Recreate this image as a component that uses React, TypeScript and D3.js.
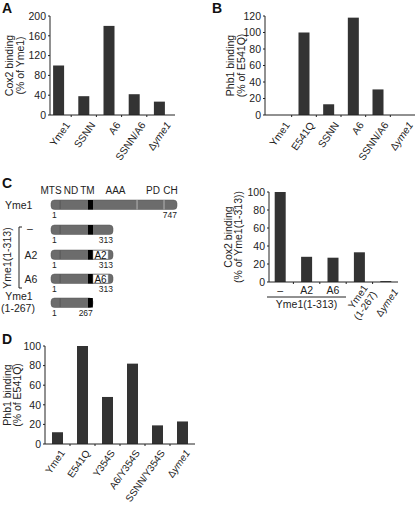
import React from 'react';
import * as d3 from 'd3';

const FONT = '"Liberation Sans", Arial, Helvetica, sans-serif';
const BAR = '#333333';
const AXIS = '#222222';

// Panel A
const aCats = ['Yme1', 'SSNN', 'A6', 'SSNN/A6', 'Δyme1'];
const aValues = [100, 38, 180, 42, 27];
const aTicks = [0, 40, 80, 120, 160, 200];

// Panel B
const bCats = ['Yme1', 'E541Q', 'SSNN', 'A6', 'SSNN/A6', 'Δyme1'];
const bValues = [0, 100, 13, 118, 31, 0];
const bTicks = [0, 20, 40, 60, 80, 100, 120];

// Panel C chart
const cCats = ['–', 'A2', 'A6', 'Yme1 (1-267)', 'Δyme1'];
const cValues = [100, 28, 27, 33, 1];
const cTicks = [0, 20, 40, 60, 80, 100];

// Panel D
const dCats = ['Yme1', 'E541Q', 'Y354S', 'A6/Y354S', 'SSNN/Y354S', 'Δyme1'];
const dValues = [12, 100, 48, 82, 19, 23];
const dTicks = [0, 20, 40, 60, 80, 100];

// Panel C diagram
const domainNames = ['MTS', 'ND', 'TM', 'AAA', 'PD', 'CH'];
const domainLabelRes = [1, 130, 236, 330, 584, 703];
const constructNames = ['Yme1', '–', 'A2', 'A6', 'Yme1 (1-267)'];
const constructEnds = [747, 313, 313, 313, 267];
const constructTags = ['', '', 'A2', 'A6', ''];

function CatText({ label }: { label: string }) {
  if (label.startsWith('Δ')) {
    return (
      <>
        <tspan>Δ</tspan>
        <tspan fontStyle="italic">{label.slice(1)}</tspan>
      </>
    );
  }
  return <>{label}</>;
}

type PanelProps = {
  cats: string[];
  values: number[];
  ticks: number[];
  yMax: number;
  axisX: number;
  axisEnd: number;
  band: [number, number];
  yTop: number;
  yBottom: number;
  bw: number;
  yLabel: [string, string];
  labX: [number, number];
  lab: [number, number];
  labSize?: number;
  customLabels?: boolean;
};

function BarPanel(p: PanelProps) {
  const y = d3.scaleLinear().domain([0, p.yMax]).range([p.yBottom, p.yTop]);
  const x = d3.scaleBand<string>().domain(p.cats).range(p.band).padding(0);
  const step = x.step();
  const midY = (p.yTop + p.yBottom) / 2;
  return (
    <g>
      {p.cats.map((c, i) => {
        const cx = (x(c) as number) + step / 2;
        const h = p.yBottom - y(p.values[i]);
        return (
          <rect key={c} x={cx - p.bw / 2} y={y(p.values[i])} width={p.bw} height={Math.max(h, 0)} fill={BAR} />
        );
      })}
      <line x1={p.axisX} x2={p.axisX} y1={p.yTop} y2={p.yBottom} stroke={AXIS} strokeWidth={1} />
      <line x1={p.axisX} x2={p.axisEnd} y1={p.yBottom} y2={p.yBottom} stroke={AXIS} strokeWidth={1} />
      {p.cats.slice(1).map((c) => (
        <line key={'xt' + c} x1={x(c) as number} x2={x(c) as number} y1={p.yBottom} y2={p.yBottom + 2} stroke={AXIS} />
      ))}
      {p.ticks.map((t) => (
        <g key={t}>
          <line x1={p.axisX - 2} x2={p.axisX} y1={y(t)} y2={y(t)} stroke={AXIS} />
          <text x={p.axisX - 4} y={y(t)} dy="0.36em" textAnchor="end" fontSize={10.5} fill="#222">
            {t}
          </text>
        </g>
      ))}
      <text transform={`translate(${p.labX[0]},${midY}) rotate(-90)`} textAnchor="middle" fontSize={10.5} fill="#222">
        {p.yLabel[0]}
      </text>
      <text transform={`translate(${p.labX[1]},${midY}) rotate(-90)`} textAnchor="middle" fontSize={10.5} fill="#222">
        {p.yLabel[1]}
      </text>
      {!p.customLabels &&
        p.cats.map((c) => {
          const cx = (x(c) as number) + step / 2;
          return (
            <text
              key={'l' + c}
              transform={`translate(${cx + p.lab[0]},${p.yBottom + p.lab[1]}) rotate(-55)`}
              textAnchor="end"
              dy="0.35em"
              fontSize={p.labSize ?? 10.3}
              fill="#222"
            >
              <CatText label={c} />
            </text>
          );
        })}
      {p.customLabels && (() => {
        const cxs = p.cats.map((c) => (x(c) as number) + step / 2);
        return (
          <g>
            {p.cats.slice(0, 3).map((c, i) => (
              <text key={'h' + c} x={cxs[i]} y={p.yBottom + 12} textAnchor="middle" fontSize={10.5} fill="#222">
                {c}
              </text>
            ))}
            <line x1={p.axisX - 2} x2={cxs[2] + 13} y1={p.yBottom + 15} y2={p.yBottom + 15} stroke={AXIS} />
            <text x={(p.axisX - 2 + cxs[2] + 13) / 2} y={p.yBottom + 26} textAnchor="middle" fontSize={10.5} fill="#222">
              Yme1(1-313)
            </text>
            <text
              transform={`translate(${cxs[3] + 6},${p.yBottom + 4}) rotate(-55)`}
              textAnchor="end"
              fontSize={10}
              fill="#222"
            >
              <tspan x={0} dy="0.35em">Yme1</tspan>
              <tspan x={0} dy="1.1em">(1-267)</tspan>
            </text>
            <text
              transform={`translate(${cxs[4] + 10},${p.yBottom + 8}) rotate(-55)`}
              textAnchor="end"
              dy="0.35em"
              fontSize={10}
              fill="#222"
            >
              <CatText label={p.cats[4]} />
            </text>
          </g>
        );
      })()}
    </g>
  );
}

function Diagram() {
  const s = d3.scaleLinear().domain([1, 240, 268, 313, 747]).range([51, 88, 93, 113, 177]);
  const rowY = [200, 225, 250, 274, 298];
  const bh = 9.5;
  const grey = '#6c6c6c';
  return (
    <g>
      {domainNames.map((n, i) => (
        <text key={n} x={s(domainLabelRes[i])} y={194} textAnchor="middle" fontSize={10} fill="#222">
          {n}
        </text>
      ))}
      {constructEnds.map((end, i) => {
        const yy = rowY[i];
        const tag = constructTags[i];
        return (
          <g key={i}>
            <rect x={s(1)} y={yy} width={s(end) - s(1)} height={bh} rx={3.5} fill={grey} stroke="#555" strokeWidth={0.5} />
            <line x1={s(60)} x2={s(60)} y1={yy + 0.5} y2={yy + bh - 0.5} stroke="#4a4a4a" strokeWidth={0.6} />
            {end > 476 && (
              <>
                <line x1={s(476)} x2={s(476)} y1={yy} y2={yy + bh} stroke="#c8c8c8" strokeWidth={0.8} />
                <line x1={s(659)} x2={s(659)} y1={yy} y2={yy + bh} stroke="#c8c8c8" strokeWidth={0.8} />
              </>
            )}
            <rect x={s(240)} y={yy} width={s(Math.min(268, end)) - s(240)} height={bh} fill="#000" />
            {tag && (
              <g>
                <rect x={s(268)} y={yy + 0.5} width={s(302) - s(268)} height={bh - 1} fill="#fff" stroke="#888" strokeWidth={0.5} />
                <text x={(s(268) + s(302)) / 2} y={yy + bh - 1} textAnchor="middle" fontSize={10} fill="#111">
                  {tag}
                </text>
              </g>
            )}
            <text x={s(1) + 1} y={yy + bh + 8.5} textAnchor="start" fontSize={8.5} fill="#222">
              1
            </text>
            <text x={s(end)} y={yy + bh + 8.5} textAnchor="end" fontSize={8.5} fill="#222">
              {end}
            </text>
          </g>
        );
      })}
      <text x={5} y={209} fontSize={10.5} fill="#222">{constructNames[0]}</text>
      <text x={30} y={232} textAnchor="middle" fontSize={10.5} fill="#222">{constructNames[1]}</text>
      <text x={31} y={259} textAnchor="middle" fontSize={10.5} fill="#222">{constructNames[2]}</text>
      <text x={31} y={283} textAnchor="middle" fontSize={10.5} fill="#222">{constructNames[3]}</text>
      <path d="M22,227 H19 V288 H22" fill="none" stroke="#222" strokeWidth={1} />
      <text transform="translate(11,258) rotate(-90)" textAnchor="middle" fontSize={10.5} fill="#222">
        Yme1(1-313)
      </text>
      <text x={19} y={300} textAnchor="middle" fontSize={10.5} fill="#222">Yme1</text>
      <text x={18} y={312} textAnchor="middle" fontSize={10.5} fill="#222">(1-267)</text>
    </g>
  );
}

export default function App() {
  return (
    <svg width={416} height={506} style={{ display: 'block', position: 'absolute', left: 0, top: 0 }} fontFamily={FONT}>
      <rect width={416} height={506} fill="#fff" />
      <text x={2} y={13} fontSize={14} fontWeight="bold" fill="#111">A</text>
      <text x={212} y={13} fontSize={14} fontWeight="bold" fill="#111">B</text>
      <text x={2} y={188} fontSize={14} fontWeight="bold" fill="#111">C</text>
      <text x={2} y={344} fontSize={14} fontWeight="bold" fill="#111">D</text>
      <BarPanel
        cats={aCats}
        values={aValues}
        ticks={aTicks}
        yMax={200}
        axisX={50}
        axisEnd={175}
        band={[46, 172]}
        yTop={16}
        yBottom={115}
        bw={11}
        yLabel={['Cox2 binding', '(% of Yme1)']}
        labX={[13, 24]}
        lab={[9, 8]}
      />
      <BarPanel
        cats={bCats}
        values={bValues}
        ticks={bTicks}
        yMax={120}
        axisX={265}
        axisEnd={415}
        band={[267, 415]}
        yTop={16}
        yBottom={115}
        bw={11}
        yLabel={['Phb1 binding', '(% of E541Q)']}
        labX={[234, 245]}
        lab={[8, 8]}
      />
      <Diagram />
      <BarPanel
        cats={cCats}
        values={cValues}
        ticks={cTicks}
        yMax={100}
        axisX={269}
        axisEnd={398}
        band={[267, 399]}
        yTop={192}
        yBottom={282}
        bw={11}
        yLabel={['Cox2 binding', '(% of Yme1(1-313))']}
        labX={[232, 242]}
        lab={[8, 8]}
        customLabels
      />
      <BarPanel
        cats={dCats}
        values={dValues}
        ticks={dTicks}
        yMax={100}
        axisX={45}
        axisEnd={195}
        band={[45, 195]}
        yTop={346}
        yBottom={444}
        bw={11}
        yLabel={['Phb1 binding', '(% of E541Q)']}
        labX={[11, 21]}
        lab={[5, 7]}
        labSize={10}
      />
    </svg>
  );
}
